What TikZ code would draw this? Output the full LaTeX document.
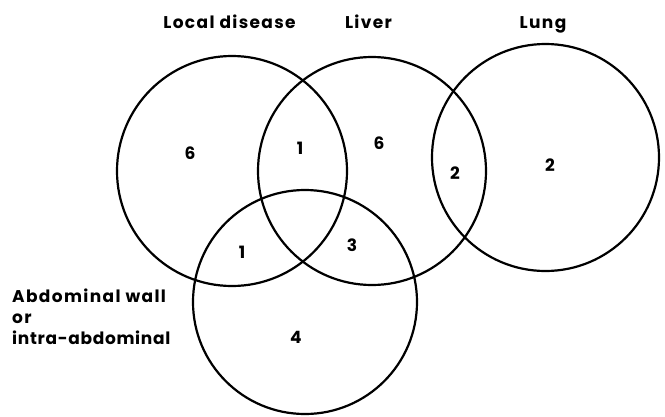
\documentclass[tikz,border=0pt]{standalone}
\usepackage{fontspec}
\setmainfont{Poppins}[LetterSpace=8]
\begin{document}
\begin{tikzpicture}[x=1pt,y=-1pt,
  ring/.style={draw=black,line width=2.2pt},
  lbl/.style={font=\fontsize{17}{21}\selectfont\bfseries, inner sep=0pt},
  num/.style={font=\fontsize{17}{17.5}\selectfont\bfseries, inner sep=0pt}]
\useasboundingbox (0,0) rectangle (665,416);
\draw[ring] (232,171) circle (115);
\draw[ring] (372,171) circle (114);
\draw[ring] (545.5,157.5) circle (113.5);
\draw[ring] (305,302) circle (112);
\node[lbl,anchor=base] (local) at (229.5,28) {Local disease};
\node[lbl,anchor=base] (liver) at (368.5,28) {Liver};
\node[lbl,anchor=base] (lung) at (543,28) {Lung};
\node[lbl,anchor=base west,align=left] (abd) at (12,344) {Abdominal wall\\or\\\addfontfeature{LetterSpace=4}intra-abdominal};
\node[num] (n1) at (190,153) {6};
\node[num] (n2) at (300,148) {1};
\node[num] (n3) at (379,143) {6};
\node[num] (n4) at (455,173) {2};
\node[num] (n5) at (550,165) {2};
\node[num] (n6) at (242,252) {1};
\node[num] (n7) at (352,245) {3};
\node[num] (n8) at (296,337) {4};
\end{tikzpicture}
\end{document}
